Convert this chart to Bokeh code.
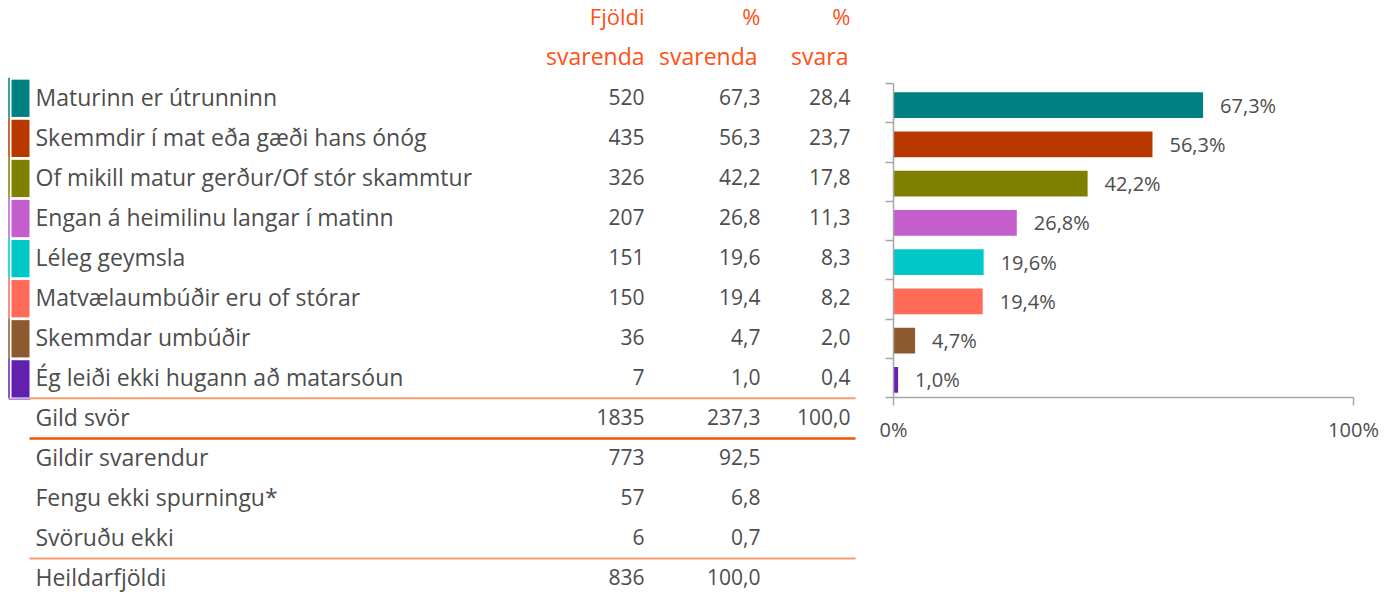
from bokeh.plotting import figure
from bokeh.models import Range1d, FixedTicker, PrintfTickFormatter
from bokeh.embed import file_html
from bokeh.resources import INLINE
from bokeh.core.properties import value

# ---------------- data ----------------
categories = [
    "Maturinn er útrunninn",
    "Skemmdir í mat eða gæði hans ónóg",
    "Of mikill matur gerður/Of stór skammtur",
    "Engan á heimilinu langar í matinn",
    "Léleg geymsla",
    "Matvælaumbúðir eru of stórar",
    "Skemmdar umbúðir",
    "Ég leiði ekki hugann að matarsóun",
]
counts = [520, 435, 326, 207, 151, 150, 36, 7]
pct_respondents = [67.3, 56.3, 42.2, 26.8, 19.6, 19.4, 4.7, 1.0]
pct_answers = [28.4, 23.7, 17.8, 11.3, 8.3, 8.2, 2.0, 0.4]
colors = ["#008080", "#B83800", "#808000", "#C45ECC",
          "#00C8C8", "#FF6A59", "#8C5A2E", "#6320B0"]

summary_labels = ["Gild svör", "Gildir svarendur", "Fengu ekki spurningu*",
                  "Svöruðu ekki", "Heildarfjöldi"]
summary_counts = [1835, 773, 57, 6, 836]
summary_pct_resp = [237.3, 92.5, 6.8, 0.7, 100.0]
summary_pct_ans = [100.0, None, None, None, None]

header_top = ["Fjöldi", "%", "%"]
header_bottom = ["svarenda", "svarenda", "svara"]
axis_ticks = [0, 100]

# ---------------- styling / layout ----------------
FONT = value("Open Sans")
TXT = "#4D4D4D"
HEAD = "#FF5014"
LIGHT_OR = "#F99A6E"
DARK_OR = "#F5520F"
AXIS_GRAY = "#A6A6A6"

W, H = 1388, 592
FR_L, FR_R, FR_T, FR_B = 893, 1353, 83, 397   # bar-chart frame (page px)
ROW0, PITCH = 96.0, 40.08    # table: first row centre / row pitch (page px)


def fmt(v):
    return "" if v is None else f"{v:.1f}".replace(".", ",")


n = len(categories)
idx = list(range(n))

p = figure(width=W, height=H,
           x_range=Range1d(0, 100), y_range=Range1d(n, 0),
           min_border_left=FR_L, min_border_right=W - FR_R,
           min_border_top=FR_T, min_border_bottom=H - FR_B,
           output_backend="svg", toolbar_location=None)
p.grid.visible = False
p.outline_line_color = None

# table coordinate system: x in page px, y in row units
p.extra_x_ranges = {"tx": Range1d(FR_L, FR_R)}
p.extra_y_ranges = {"ty": Range1d((FR_B - ROW0) / PITCH, (FR_T - ROW0) / PITCH)}
T = dict(x_range_name="tx", y_range_name="ty", level="overlay")

labels = categories + summary_labels
rows = list(range(len(labels)))
col1 = [str(c) for c in counts + summary_counts]
col2 = [fmt(v) for v in pct_respondents + summary_pct_resp]
col3 = [fmt(v) for v in pct_answers + summary_pct_ans]

p.text(x=35, y=rows, text=labels, text_font=FONT, text_font_size="23px",
       text_color=TXT, text_baseline="middle", text_align="left", **T)
for xpos, col in zip([644, 760, 850], [col1, col2, col3]):
    p.text(x=xpos, y=rows, text=col, text_font=FONT, text_font_size="21px",
           text_color=TXT, text_baseline="middle", text_align="right", **T)

p.text(x=[644, 760, 850], y=[-2.0] * 3, text=header_top, text_font=FONT,
       text_font_size="22px", text_color=HEAD, text_baseline="middle",
       text_align="right", **T)
p.text(x=[644, 757, 848], y=[-1.0] * 3, text=header_bottom, text_font=FONT,
       text_font_size="23px", text_color=HEAD, text_baseline="middle",
       text_align="right", **T)

# colour swatches and thin side lines
p.quad(left=11, right=29, top=[i - 0.42 for i in idx], bottom=[i + 0.51 for i in idx],
       fill_color=colors, line_color=None, **T)
p.segment(x0=8.5, x1=8.5, y0=[i - 0.47 for i in idx], y1=[i + 0.53 for i in idx],
          line_color=colors, line_width=1.5, **T)
p.segment(x0=8, x1=30, y0=n - 0.45, y1=n - 0.45, line_color="#8A5CC8", line_width=1.2, **T)

# separator lines
p.segment(x0=29, x1=855, y0=n - 0.47, y1=n - 0.47, line_color=LIGHT_OR, line_width=2, **T)
p.segment(x0=29, x1=855, y0=n + 0.53, y1=n + 0.53, line_color=DARK_OR, line_width=2.5, **T)
p.segment(x0=29, x1=855, y0=n + 3.53, y1=n + 3.53, line_color=LIGHT_OR, line_width=2, **T)

# ---------------- bars ----------------
ys = [i + 0.55 for i in idx]
p.hbar(y=ys, left=0, right=pct_respondents, height=0.66,
       fill_color=colors, line_color=None)
p.text(x=pct_respondents, y=ys, text=[fmt(v) + "%" for v in pct_respondents],
       x_offset=17, text_font=FONT, text_font_size="20px", text_color=TXT,
       text_baseline="middle", text_align="left", level="overlay")

ya = p.yaxis[0]
ya.ticker = FixedTicker(ticks=list(range(n + 1)))
ya.major_label_overrides = {i: "" for i in range(n + 1)}
ya.major_label_text_font_size = "0px"
ya.major_tick_out = 8
ya.major_tick_in = 0
ya.minor_tick_line_color = None
ya.axis_line_color = AXIS_GRAY
ya.major_tick_line_color = AXIS_GRAY
ya.axis_line_width = 1.5
ya.major_tick_line_width = 1.5

xa = p.xaxis[0]
xa.ticker = FixedTicker(ticks=axis_ticks)
xa.formatter = PrintfTickFormatter(format="%d%%")
xa.major_tick_out = 8
xa.major_tick_in = 0
xa.minor_tick_line_color = None
xa.axis_line_color = AXIS_GRAY
xa.major_tick_line_color = AXIS_GRAY
xa.axis_line_width = 1.5
xa.major_tick_line_width = 1.5
xa.major_label_text_font = "Open Sans"
xa.major_label_text_font_size = "20px"
xa.major_label_text_color = TXT
xa.major_label_standoff = 10

open("out.html", "w").write(file_html(p, INLINE))
